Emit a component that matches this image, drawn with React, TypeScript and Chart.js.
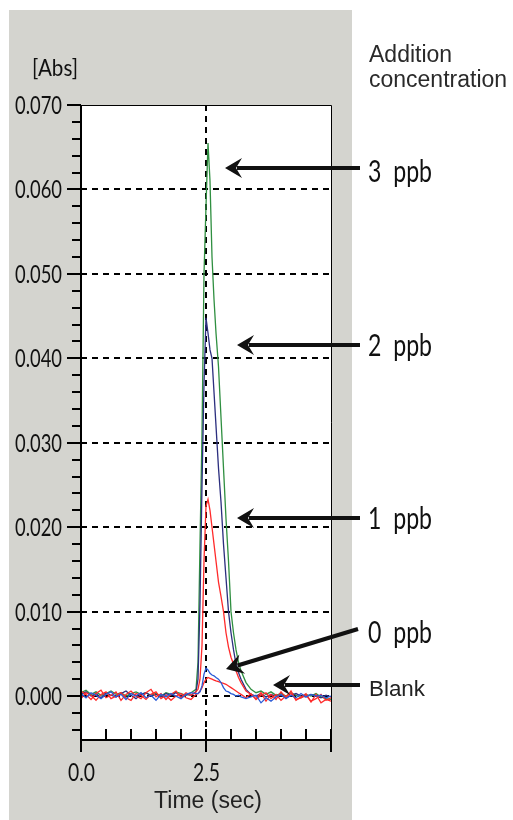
import { useEffect, useRef } from 'react';
import { Chart, registerables } from 'chart.js';

Chart.register(...registerables);

// ---------- data ----------
const TIME = [
  0.0, 0.1, 0.2, 0.3, 0.4, 0.5, 0.6, 0.7, 0.8, 0.9, 1.0, 1.1, 1.2, 1.3, 1.4, 1.5, 1.6, 1.7, 1.8, 1.9, 2.0, 2.1, 2.2, 2.3,
  2.34, 2.38, 2.42, 2.46, 2.50, 2.54, 2.58, 2.62, 2.66, 2.70, 2.75, 2.80, 2.85, 2.90, 2.95, 3.00, 3.05, 3.10, 3.15, 3.20,
  3.3, 3.4, 3.5, 3.6, 3.7, 3.8, 3.9, 4.0, 4.1, 4.2, 4.3, 4.4, 4.5, 4.6, 4.7, 4.8, 4.9, 5.0,
];

const PPB3_GREEN = [
  0.0004, 0.0007, 0.0002, 0.0005, 0.0001, 0.0003, 0.0006, 0.0002, 0.0004, 0.0000, 0.0003, 0.0005, 0.0002, 0.0004, 0.0001, 0.0003, 0.0000, 0.0004, 0.0002, 0.0005, 0.0003, 0.0001, 0.0004, 0.0008,
  0.004, 0.018, 0.031, 0.050, 0.058, 0.0655, 0.061, 0.052, 0.047, 0.043, 0.039, 0.033, 0.027, 0.021, 0.016, 0.010, 0.0075, 0.0055, 0.0040, 0.0030,
  0.0016, 0.0008, 0.0004, 0.0006, 0.0002, 0.0005, 0.0001, 0.0003, 0.0000, 0.0004, 0.0001, -0.0002, 0.0002, 0.0000, 0.0003, -0.0001, -0.0003, -0.0004,
];

const PPB2_NAVY = [
  0.0002, 0.0005, 0.0000, 0.0003, -0.0002, 0.0004, 0.0001, -0.0001, 0.0003, 0.0006, 0.0001, -0.0003, 0.0002, 0.0004, 0.0000, 0.0002, -0.0001, 0.0003, 0.0001, 0.0004, 0.0000, 0.0002, 0.0001, 0.0005,
  0.002, 0.011, 0.025, 0.037, 0.0448, 0.043, 0.041, 0.040, 0.036, 0.032, 0.027, 0.023, 0.018, 0.014, 0.010, 0.0075, 0.0055, 0.0038, 0.0028, 0.0020,
  0.0008, 0.0002, 0.0000, 0.0003, -0.0001, 0.0002, 0.0000, 0.0001, -0.0002, 0.0001, 0.0003, 0.0000, -0.0001, 0.0002, 0.0000, -0.0002, 0.0001, -0.0001,
];

const PPB1_RED = [
  0.0006, 0.0002, -0.0004, 0.0003, 0.0007, -0.0002, 0.0001, 0.0005, -0.0005, 0.0002, 0.0006, 0.0000, -0.0003, 0.0004, 0.0008, -0.0001, 0.0003, -0.0004, 0.0002, 0.0006, -0.0002, 0.0004, 0.0001, 0.0005,
  0.0008, 0.002, 0.006, 0.016, 0.0225, 0.0233, 0.022, 0.020, 0.018, 0.016, 0.0135, 0.0118, 0.0100, 0.0075, 0.0058, 0.0046, 0.0038, 0.0030, 0.0022, 0.0016,
  0.0006, 0.0002, -0.0003, 0.0004, -0.0006, 0.0002, -0.0004, 0.0005, -0.0002, 0.0006, -0.0005, -0.0001, 0.0003, -0.0007, 0.0002, -0.0008, -0.0004, -0.0006,
];

const BLANK_RED = [
  -0.0003, 0.0004, 0.0001, -0.0005, 0.0002, 0.0005, -0.0003, 0.0000, 0.0004, -0.0002, -0.0005, 0.0003, 0.0001, -0.0004, 0.0002, 0.0005, -0.0003, 0.0001, -0.0005, 0.0000, 0.0003, -0.0002, -0.0004, 0.0002,
  0.0003, 0.0006, 0.0010, 0.0016, 0.0020, 0.0022, 0.0021, 0.0020, 0.0019, 0.0018, 0.0017, 0.0016, 0.0015, 0.0014, 0.0012, 0.0010, 0.0008, 0.0006, 0.0004, 0.0002,
  -0.0002, 0.0003, -0.0004, 0.0001, 0.0004, -0.0003, 0.0002, -0.0005, 0.0000, 0.0003, -0.0004, -0.0002, 0.0001, -0.0006, -0.0003, 0.0002, -0.0005, -0.0002,
];

const PPB0_BLUE = [
  0.0003, -0.0002, 0.0004, 0.0001, -0.0003, 0.0002, 0.0005, -0.0001, 0.0002, -0.0004, 0.0003, 0.0000, 0.0004, -0.0002, 0.0001, -0.0005, 0.0002, -0.0001, 0.0003, 0.0000, -0.0003, 0.0002, 0.0004, 0.0003,
  0.0003, 0.0005, 0.0012, 0.0026, 0.0033, 0.0031, 0.0027, 0.0025, 0.0024, 0.0022, 0.0020, 0.0016, 0.0010, 0.0006, 0.0005, 0.0003, 0.0002, 0.0000, 0.0001, -0.0001,
  -0.0003, -0.0001, 0.0001, -0.0008, -0.0002, -0.0006, -0.0001, 0.0002, -0.0003, 0.0001, -0.0002, 0.0003, -0.0001, 0.0002, 0.0000, 0.0001, -0.0002, 0.0000,
];

const Y_MAJOR_TICKS = [0.0, 0.01, 0.02, 0.03, 0.04, 0.05, 0.06, 0.07];
const Y_TICK_LABELS = ['0.000', '0.010', '0.020', '0.030', '0.040', '0.050', '0.060', '0.070'];
const X_TICKS = [0, 0.5, 1.0, 1.5, 2.0, 2.5, 3.0, 3.5, 4.0, 4.5, 5.0];
const X_MAJOR_TICKS = [0, 2.5, 5.0];
const X_LABEL_VALUES = [0, 2.5];
const X_TICK_LABELS = ['0.0', '2.5'];
const Y_MIN = -0.0052;
const Y_MAX = 0.07;
const X_MIN = 0;
const X_MAX = 5.0;
const MARKER_TIME = 2.5;

const LEGEND_TITLE = ['Addition', 'concentration'];
const SERIES_LABELS = ['3  ppb', '2  ppb', '1  ppb', '0  ppb'];
const BLANK_LABEL = 'Blank';
const Y_UNIT = '[Abs]';
const X_TITLE = 'Time (sec)';

const W = 513;
const H = 820;
const GRAY = '#d4d4cf';
const FONT = '"Liberation Sans", Arial, sans-serif';
const NARROW = '25px Lato, "Liberation Sans", sans-serif';

function drawText(
  ctx: CanvasRenderingContext2D,
  text: string,
  x: number,
  y: number,
  font: string,
  align: CanvasTextAlign,
  opt: { sx?: number; width?: number },
  color = '#111'
) {
  ctx.save();
  ctx.font = font;
  const w = ctx.measureText(text).width;
  const s = opt.width ? opt.width / w : opt.sx ?? 1;
  ctx.translate(x, y);
  ctx.scale(s, 1);
  ctx.textAlign = align;
  ctx.textBaseline = 'alphabetic';
  ctx.fillStyle = color;
  ctx.fillText(text, 0, 0);
  ctx.restore();
}

function drawArrow(ctx: CanvasRenderingContext2D, x1: number, y1: number, x2: number, y2: number) {
  const ang = Math.atan2(y2 - y1, x2 - x1);
  const ux = Math.cos(ang);
  const uy = Math.sin(ang);
  const px = -uy;
  const py = ux;
  ctx.save();
  ctx.strokeStyle = '#111';
  ctx.fillStyle = '#111';
  ctx.lineWidth = 4;
  ctx.setLineDash([]);
  ctx.beginPath();
  ctx.moveTo(x1, y1);
  ctx.lineTo(x2 - ux * 12, y2 - uy * 12);
  ctx.stroke();
  ctx.beginPath();
  ctx.moveTo(x2, y2);
  ctx.lineTo(x2 - ux * 17 + px * 10, y2 - uy * 17 + py * 10);
  ctx.lineTo(x2 - ux * 11, y2 - uy * 11);
  ctx.lineTo(x2 - ux * 17 - px * 10, y2 - uy * 17 - py * 10);
  ctx.closePath();
  ctx.fill();
  ctx.restore();
}

const decorPlugin = {
  id: 'decor',
  beforeDraw(chart: any) {
    const { ctx, chartArea: a, scales } = chart;
    const ys = scales.y;
    const xs = scales.x;
    ctx.save();
    ctx.fillStyle = '#fff';
    ctx.fillRect(0, 0, W, H);
    ctx.fillStyle = GRAY;
    ctx.fillRect(9, 10, 343, H - 10);
    ctx.fillStyle = '#fff';
    ctx.fillRect(a.left, a.top, a.right - a.left, a.bottom - a.top);
    ctx.strokeStyle = '#000';
    ctx.lineWidth = 2;
    ctx.setLineDash([6, 5]);
    Y_MAJOR_TICKS.forEach((v) => {
      if (v >= Y_MAX) return;
      const y = Math.round(ys.getPixelForValue(v));
      ctx.beginPath();
      ctx.moveTo(a.left, y);
      ctx.lineTo(a.right, y);
      ctx.stroke();
    });
    const mx = Math.round(xs.getPixelForValue(MARKER_TIME));
    ctx.beginPath();
    ctx.moveTo(mx, a.top);
    ctx.lineTo(mx, a.bottom - 11);
    ctx.stroke();
    ctx.restore();
  },
  afterDatasetsDraw(chart: any) {
    const { ctx, chartArea: a, scales } = chart;
    const ys = scales.y;
    const xs = scales.x;
    ctx.save();
    ctx.setLineDash([]);
    ctx.strokeStyle = '#000';
    ctx.lineWidth = 1;
    ctx.beginPath();
    ctx.moveTo(a.left, a.top + 0.5);
    ctx.lineTo(a.right + 0.5, a.top + 0.5);
    ctx.lineTo(a.right + 0.5, a.bottom);
    ctx.stroke();
    ctx.lineWidth = 2;
    ctx.beginPath();
    ctx.moveTo(a.left, a.top);
    ctx.lineTo(a.left, a.bottom + 12);
    ctx.moveTo(a.left, a.bottom);
    ctx.lineTo(a.right + 1, a.bottom);
    ctx.stroke();
    ctx.beginPath();
    for (let k = -2; k <= 35; k++) {
      const v = k * 0.002;
      const y = Math.round(ys.getPixelForValue(v));
      const major = k % 5 === 0;
      ctx.moveTo(a.left - (major ? 14 : 9), y);
      ctx.lineTo(a.left, y);
    }
    ctx.stroke();
    ctx.beginPath();
    X_TICKS.forEach((v) => {
      const x = Math.round(xs.getPixelForValue(v));
      const major = X_MAJOR_TICKS.includes(v);
      ctx.moveTo(x, a.bottom - 11);
      ctx.lineTo(x, a.bottom + (major ? 12 : 0));
    });
    ctx.stroke();
    ctx.restore();

    Y_MAJOR_TICKS.forEach((v, i) => {
      const y = ys.getPixelForValue(v);
      drawText(ctx, Y_TICK_LABELS[i], 62, y + 9, NARROW, 'right', { width: 47 });
    });
    X_LABEL_VALUES.forEach((v, i) => {
      const x = xs.getPixelForValue(v);
      drawText(ctx, X_TICK_LABELS[i], x + 0.5, 781, NARROW, 'center', { width: 27 });
    });
    drawText(ctx, Y_UNIT, 32, 76, '24px Lato, "Liberation Sans", sans-serif', 'left', { width: 46 });
    drawText(ctx, X_TITLE, 208, 808, `23px ${FONT}`, 'center', { sx: 1 }, '#222');

    drawText(ctx, LEGEND_TITLE[0], 369, 62, `23px ${FONT}`, 'left', { sx: 1 }, '#2a2a2a');
    drawText(ctx, LEGEND_TITLE[1], 369, 87, `23px ${FONT}`, 'left', { sx: 1 }, '#2a2a2a');

    const labelFont = '30px Lato, "Liberation Sans", sans-serif';
    const labelBase = [182, 356, 529, 643];
    SERIES_LABELS.forEach((t, i) => {
      drawText(ctx, t, 368, labelBase[i], labelFont, 'left', { width: 64 });
    });
    drawText(ctx, BLANK_LABEL, 369, 696, `22px ${FONT}`, 'left', { width: 56 }, '#222');

    drawArrow(ctx, 360, 168, 225, 168);
    drawArrow(ctx, 360, 345, 237, 345);
    drawArrow(ctx, 360, 518, 237, 518);
    drawArrow(ctx, 358, 629, 226, 669);
    drawArrow(ctx, 360, 685, 273, 685);
  },
};

function series(values: number[]) {
  return TIME.map((t, i) => ({ x: t, y: values[i] }));
}

export default function App() {
  const ref = useRef<HTMLCanvasElement | null>(null);
  useEffect(() => {
    if (!ref.current) return;
    const common = { pointRadius: 0, borderWidth: 1.3, tension: 0, fill: false };
    const chart = new Chart(ref.current, {
      type: 'line',
      data: {
        datasets: [
          { label: '0 ppb', data: series(PPB0_BLUE), borderColor: '#2a5ad6', ...common },
          { label: 'Blank', data: series(BLANK_RED), borderColor: '#ff2b2b', ...common },
          { label: '1 ppb', data: series(PPB1_RED), borderColor: '#ff2b2b', ...common },
          { label: '2 ppb', data: series(PPB2_NAVY), borderColor: '#2c2f7f', ...common },
          { label: '3 ppb', data: series(PPB3_GREEN), borderColor: '#2f8f40', ...common },
        ],
      },
      options: {
        animation: false,
        responsive: false,
        devicePixelRatio: 1,
        layout: { padding: { left: 81, top: 105, right: W - 331, bottom: H - 740 } },
        scales: {
          x: { type: 'linear', min: X_MIN, max: X_MAX, display: false },
          y: { type: 'linear', min: Y_MIN, max: Y_MAX, display: false },
        },
        plugins: { legend: { display: false }, tooltip: { enabled: false } },
      },
      plugins: [decorPlugin],
    });
    return () => chart.destroy();
  }, []);
  return (
    <div style={{ position: 'absolute', left: 0, top: 0, width: W, height: H }}>
      <canvas ref={ref} width={W} height={H} style={{ display: 'block', width: W, height: H }} />
    </div>
  );
}
